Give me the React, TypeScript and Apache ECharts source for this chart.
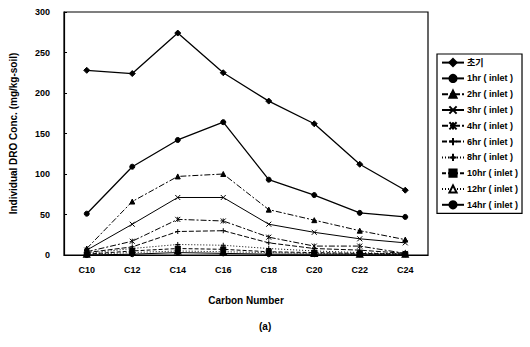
import React, { useEffect, useRef } from "react";
import * as echarts from "echarts";

const categories = ["C10", "C12", "C14", "C16", "C18", "C20", "C22", "C24"];
const yTicks = [0, 50, 100, 150, 200, 250, 300];

const seriesNames = [
  "초기",
  "1hr ( inlet )",
  "2hr ( inlet )",
  "3hr ( inlet )",
  "4hr ( inlet )",
  "6hr ( inlet )",
  "8hr ( inlet )",
  "10hr ( inlet )",
  "12hr ( inlet )",
  "14hr ( inlet )",
];

const s0 = [228, 224, 274, 225, 190, 162, 112, 80];
const s1 = [51, 109, 142, 164, 93, 74, 52, 47];
const s2 = [8, 66, 97, 100, 56, 43, 30, 19];
const s3 = [6, 38, 71, 71, 38, 28, 20, 15];
const s4 = [4, 17, 44, 42, 22, 11, 11, 2];
const s6 = [3, 10, 29, 30, 15, 8, 6, 2];
const s8 = [2, 8, 13, 12, 8, 5, 3, 1];
const s10 = [1, 5, 8, 7, 4, 3, 2, 1];
const s12 = [1, 3, 5, 4, 3, 2, 1, 1];
const s14 = [0, 1, 3, 2, 1, 1, 1, 1];

const seriesData = [s0, s1, s2, s3, s4, s6, s8, s10, s12, s14];

const X_PATH = "path://M0,0L10,10M10,0L0,10";
const STAR_PATH = "path://M0,0L10,10M10,0L0,10M5,0L5,10";
const PLUS_PATH = "path://M0,5L10,5M5,0L5,10";
const DASH_PATH = "path://M0,4L10,4L10,6L0,6Z";

const symbols = [
  "diamond",
  "circle",
  "triangle",
  X_PATH,
  STAR_PATH,
  PLUS_PATH,
  PLUS_PATH,
  DASH_PATH,
  "emptyTriangle",
  "circle",
];
const lineTypes: any[] = [
  "solid",
  "solid",
  [6, 2, 2, 2],
  "solid",
  [6, 2, 2, 2],
  [5, 2],
  [1, 2],
  [4, 2],
  [1, 2],
  "solid",
];

const FONT = "'Liberation Sans', Arial, 'Noto Sans CJK KR', sans-serif";

export default function App() {
  const ref = useRef<HTMLDivElement>(null);
  useEffect(() => {
    if (!ref.current) return;
    const chart = echarts.init(ref.current, undefined, { renderer: "svg" });
    chart.setOption({
      animation: false,
      backgroundColor: "#ffffff",
      textStyle: { fontFamily: FONT },
      grid: {
        left: 63,
        right: 102,
        top: 12,
        bottom: 92,
        show: true,
        borderColor: "#000",
        borderWidth: 1.2,
      },
      legend: {
        orient: "vertical",
        left: 437,
        top: 54,
        itemWidth: 22,
        itemHeight: 9,
        itemGap: 6.6,
        padding: [4, 4, 4, 4],
        borderColor: "#000",
        borderWidth: 1.2,
        textStyle: {
          fontFamily: FONT,
          fontSize: 9,
          lineHeight: 9,
          fontWeight: "bold",
          color: "#000",
          padding: [0, 0, 0, -2],
        },
        data: seriesNames,
      },
      xAxis: {
        type: "category",
        data: categories,
        boundaryGap: true,
        axisLine: { lineStyle: { color: "#000", width: 1.2 } },
        axisTick: { show: false },
        axisLabel: {
          color: "#000",
          fontSize: 9,
          fontWeight: "bold",
          margin: 10,
        },
        name: "Carbon Number",
        nameLocation: "middle",
        nameGap: 40,
        nameTextStyle: { color: "#000", fontSize: 10, fontWeight: "bold" },
      },
      yAxis: {
        type: "value",
        min: 0,
        max: 300,
        interval: 50,
        axisLine: { show: true, lineStyle: { color: "#000", width: 1.2 } },
        axisTick: { show: true, length: 3, inside: true, lineStyle: { color: "#000" } },
        splitLine: { show: false },
        axisLabel: {
          color: "#000",
          fontSize: 9,
          fontWeight: "bold",
          margin: 14,
          formatter: (v: number) => (yTicks.includes(v) ? String(v) : ""),
        },
        name: "Individual DRO Conc. (mg/kg-soil)",
        nameLocation: "middle",
        nameGap: 46,
        nameTextStyle: { color: "#000", fontSize: 10, fontWeight: "bold" },
      },
      graphic: [
        {
          type: "text",
          left: 259,
          top: 321,
          style: { text: "(a)", font: `bold 10px ${FONT}`, fill: "#000" },
        },
      ],
      series: seriesData.map((d, i) => ({
        name: seriesNames[i],
        type: "line",
        data: d,
        symbol: symbols[i],
        symbolSize: i === 0 ? 6 : 5,
        lineStyle: { color: "#000", width: i <= 1 ? 1.3 : 1, type: lineTypes[i] },
        itemStyle: { color: "#000", borderColor: "#000", borderWidth: 1 },
      })),
    });
    return () => chart.dispose();
  }, []);
  return <div ref={ref} style={{ width: 530, height: 347, position: "absolute", left: 0, top: 0 }} />;
}
